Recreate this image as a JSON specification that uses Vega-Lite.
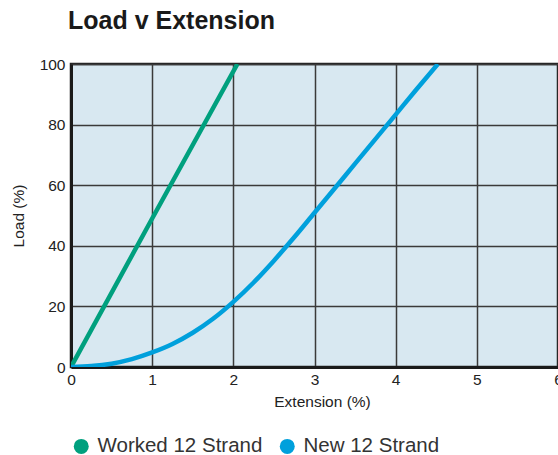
{
  "$schema": "https://vega.github.io/schema/vega-lite/v6.json",
  "width": 487,
  "height": 303,
  "autosize": {"type": "none"},
  "padding": {"left": 71, "top": 64, "right": 0, "bottom": 88},
  "background": "#ffffff",
  "title": {
    "text": "Load v Extension",
    "anchor": "start",
    "frame": "group",
    "font": "Liberation Sans",
    "fontSize": 25,
    "fontWeight": "bold",
    "color": "#1a1a1a",
    "dx": -3,
    "offset": 23
  },
  "config": {
    "view": {"fill": "#d8e8f1", "stroke": "#222222", "strokeWidth": 2.5},
    "font": "Liberation Sans"
  },
  "data": {
    "values": [
      {"series": "Worked 12 Strand", "ext": 0, "load": 0},
      {"series": "Worked 12 Strand", "ext": 1, "load": 49},
      {"series": "Worked 12 Strand", "ext": 2.05, "load": 100},
      {"series": "New 12 Strand", "ext": 0, "load": 0},
      {"series": "New 12 Strand", "ext": 0.25, "load": 0.3},
      {"series": "New 12 Strand", "ext": 0.5, "load": 1.1},
      {"series": "New 12 Strand", "ext": 0.75, "load": 2.6},
      {"series": "New 12 Strand", "ext": 1.0, "load": 4.8},
      {"series": "New 12 Strand", "ext": 1.25, "load": 7.6},
      {"series": "New 12 Strand", "ext": 1.5, "load": 11.3},
      {"series": "New 12 Strand", "ext": 1.75, "load": 15.9},
      {"series": "New 12 Strand", "ext": 2.0, "load": 21.5},
      {"series": "New 12 Strand", "ext": 2.25, "load": 27.9},
      {"series": "New 12 Strand", "ext": 2.5, "load": 35.1},
      {"series": "New 12 Strand", "ext": 2.75, "load": 42.8},
      {"series": "New 12 Strand", "ext": 3.0, "load": 50.9},
      {"series": "New 12 Strand", "ext": 3.25, "load": 59.0},
      {"series": "New 12 Strand", "ext": 3.5, "load": 67.1},
      {"series": "New 12 Strand", "ext": 3.75, "load": 75.2},
      {"series": "New 12 Strand", "ext": 4.0, "load": 83.3},
      {"series": "New 12 Strand", "ext": 4.25, "load": 91.4},
      {"series": "New 12 Strand", "ext": 4.52, "load": 100}
    ]
  },
  "mark": {"type": "line", "strokeWidth": 4.5, "interpolate": "monotone", "clip": true},
  "encoding": {
    "x": {
      "field": "ext",
      "type": "quantitative",
      "title": "Extension (%)",
      "scale": {"domain": [0, 6], "nice": false},
      "axis": {
        "values": [0, 1, 2, 3, 4, 5, 6],
        "format": "d",
        "grid": true,
        "gridColor": "#3a3a3a",
        "gridWidth": 1.5,
        "gridOpacity": 1,
        "ticks": false,
        "domainColor": "#1a1a1a",
        "domainWidth": 3,
        "labelFlush": false,
        "labelFontSize": 15.5,
        "labelColor": "#222222",
        "labelPadding": 5,
        "labelFont": "Liberation Sans",
        "titleFont": "Liberation Sans",
        "titleFontSize": 15.5,
        "titleFontWeight": "normal",
        "titleColor": "#222222",
        "titlePadding": 7,
        "titleX": 251
      }
    },
    "y": {
      "field": "load",
      "type": "quantitative",
      "title": "Load (%)",
      "scale": {"domain": [0, 100], "nice": false},
      "axis": {
        "values": [0, 20, 40, 60, 80, 100],
        "grid": true,
        "gridColor": "#3a3a3a",
        "gridWidth": 1.5,
        "gridOpacity": 1,
        "ticks": false,
        "domainColor": "#1a1a1a",
        "domainWidth": 3,
        "labelFontSize": 15.5,
        "labelColor": "#222222",
        "labelPadding": 6,
        "labelFont": "Liberation Sans",
        "titleFont": "Liberation Sans",
        "titleFontSize": 15.5,
        "titleFontWeight": "normal",
        "titleColor": "#222222",
        "titlePadding": 13
      }
    },
    "color": {
      "field": "series",
      "type": "nominal",
      "scale": {
        "domain": ["Worked 12 Strand", "New 12 Strand"],
        "range": ["#00a07e", "#00a0dc"]
      },
      "legend": {
        "title": null,
        "orient": "none",
        "legendX": 0,
        "legendY": 372,
        "direction": "horizontal",
        "symbolType": "circle",
        "symbolFillOpacity": 1,
        "symbolStrokeWidth": 0,
        "symbolSize": 225,
        "labelFontSize": 20.5,
        "labelFont": "Liberation Sans",
        "labelColor": "#333333",
        "labelOffset": 6,
        "columnPadding": 14,
        "labelLimit": 300,
        "encode": {
          "symbols": {
            "update": {
              "fill": {"scale": "color", "field": "value"},
              "fillOpacity": {"value": 1},
              "strokeWidth": {"value": 0}
            }
          }
        }
      }
    }
  }
}
